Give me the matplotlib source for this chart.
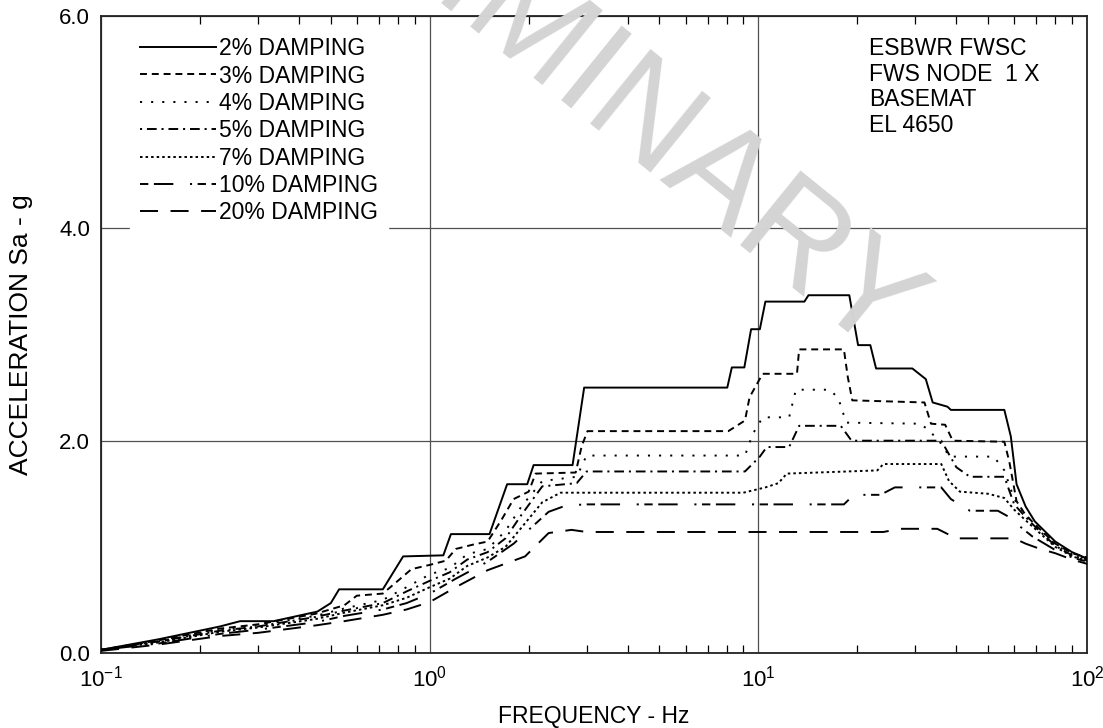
import matplotlib

matplotlib.use("Agg")

import matplotlib.pyplot as plt
from matplotlib.ticker import FixedLocator, FormatStrFormatter, LogLocator, NullFormatter

plt.rcParams["font.family"] = ["Liberation Sans", "DejaVu Sans"]
plt.rcParams["mathtext.fontset"] = "custom"
plt.rcParams["mathtext.rm"] = "Liberation Sans"
plt.rcParams["mathtext.it"] = "Liberation Sans:italic"
plt.rcParams["lines.scale_dashes"] = False

# spectra, (frequency Hz, Sa g) per damping ratio
f2 = [0.1, 0.15, 0.23, 0.265, 0.335, 0.455, 0.50, 0.53, 0.72, 0.83, 1.10, 1.16, 1.52, 1.72,
      1.98, 2.07, 2.72, 2.95, 8.04, 8.3, 9.06, 9.5, 10.1, 10.5, 13.8, 14.2, 18.9, 20.1, 21.9,
      22.8, 29.4, 32.3, 33.9, 37.6, 38.5, 56.0, 58.6, 61.0, 65, 69.3, 80, 90, 100]
a2 = [0.03, 0.13, 0.25, 0.30, 0.30, 0.39, 0.47, 0.60, 0.60, 0.91, 0.92, 1.12, 1.12, 1.59,
      1.59, 1.77, 1.77, 2.50, 2.50, 2.69, 2.69, 3.05, 3.05, 3.31, 3.31, 3.37, 3.37, 2.90, 2.90,
      2.68, 2.68, 2.58, 2.36, 2.32, 2.29, 2.29, 2.04, 1.59, 1.38, 1.24, 1.05, 0.95, 0.89]

f3 = [0.1, 0.15, 0.23, 0.3, 0.45, 0.55, 0.6, 0.72, 0.80, 0.88, 1.0, 1.12, 1.2, 1.35, 1.5,
      1.65, 1.8, 2.0, 2.1, 2.78, 2.9, 3.02, 8.1, 9.1, 9.4, 10.3, 13.1, 13.3, 18.2, 18.7, 19.3,
      32.0, 33.5, 37, 39, 56, 58, 61, 65, 70, 80, 90, 100]
a3 = [0.03, 0.12, 0.23, 0.27, 0.37, 0.45, 0.54, 0.56, 0.68, 0.79, 0.83, 0.87, 0.98, 1.02, 1.05,
      1.25, 1.45, 1.52, 1.69, 1.70, 1.95, 2.09, 2.09, 2.19, 2.41, 2.63, 2.63, 2.86, 2.86, 2.60,
      2.38, 2.36, 2.16, 2.15, 2.00, 1.99, 1.80, 1.43, 1.30, 1.20, 1.03, 0.94, 0.90]

f4 = [0.1, 0.15, 0.23, 0.3, 0.45, 0.55, 0.72, 0.85, 1.0, 1.15, 1.3, 1.5, 1.7, 1.9, 2.2, 2.8,
      3.0, 9.1, 9.6, 10.3, 12.4, 13.0, 16.5, 17.5, 18.5, 31, 33, 36.5, 38, 52, 56, 60, 65, 70,
      80, 90, 100]
a4 = [0.03, 0.11, 0.22, 0.26, 0.35, 0.42, 0.50, 0.62, 0.74, 0.80, 0.93, 0.98, 1.15, 1.38, 1.62,
      1.66, 1.86, 1.86, 2.06, 2.22, 2.22, 2.48, 2.48, 2.40, 2.17, 2.16, 2.10, 1.95, 1.85, 1.85,
      1.72, 1.45, 1.30, 1.20, 1.02, 0.93, 0.89]

f5 = [0.1, 0.15, 0.23, 0.3, 0.45, 0.55, 0.72, 0.85, 1.0, 1.15, 1.3, 1.5, 1.7, 1.9, 2.2, 2.8,
      3.0, 9.1, 10.1, 10.6, 12.4, 13.3, 17.8, 19.2, 36, 40, 44, 56, 60, 65, 70, 80, 90, 100]
a5 = [0.03, 0.11, 0.21, 0.25, 0.34, 0.40, 0.47, 0.58, 0.68, 0.76, 0.88, 0.95, 1.08, 1.30, 1.57,
      1.60, 1.71, 1.71, 1.85, 1.94, 1.94, 2.14, 2.14, 2.00, 2.00, 1.75, 1.66, 1.66, 1.40, 1.28,
      1.18, 1.01, 0.92, 0.88]

f7 = [0.1, 0.15, 0.23, 0.3, 0.45, 0.55, 0.72, 0.85, 1.0, 1.15, 1.3, 1.5, 1.7, 1.9, 2.2, 2.5,
      9.0, 10.5, 11.5, 12.2, 23, 24, 36, 38, 41, 50, 56, 60, 65, 70, 80, 90, 100]
a7 = [0.03, 0.10, 0.20, 0.24, 0.32, 0.38, 0.45, 0.52, 0.62, 0.70, 0.82, 0.90, 1.00, 1.18, 1.42,
      1.51, 1.51, 1.56, 1.60, 1.69, 1.72, 1.78, 1.78, 1.62, 1.52, 1.50, 1.46, 1.35, 1.25, 1.16,
      1.00, 0.91, 0.87]

f10 = [0.1, 0.15, 0.23, 0.3, 0.45, 0.55, 0.72, 0.85, 1.0, 1.2, 1.5, 1.8, 2.0, 2.3, 2.6, 3.0,
       18.2, 19.5, 23.5, 26, 36, 38.5, 44, 53.5, 58, 62, 68, 80, 90, 100]
a10 = [0.03, 0.09, 0.18, 0.22, 0.29, 0.35, 0.41, 0.47, 0.56, 0.70, 0.86, 1.03, 1.16, 1.33, 1.39,
       1.40, 1.40, 1.49, 1.49, 1.56, 1.56, 1.45, 1.34, 1.34, 1.28, 1.20, 1.10, 0.97, 0.90, 0.86]

f20 = [0.1, 0.15, 0.23, 0.3, 0.45, 0.55, 0.72, 0.85, 1.0, 1.2, 1.5, 1.95, 2.3, 2.7, 3.0, 24,
       27, 35, 40, 60, 65, 72, 80, 90, 100]
a20 = [0.02, 0.08, 0.16, 0.19, 0.26, 0.30, 0.36, 0.41, 0.48, 0.62, 0.78, 0.91, 1.13, 1.16, 1.14,
       1.14, 1.17, 1.17, 1.08, 1.08, 1.03, 0.98, 0.94, 0.88, 0.84]

labels = ["2% DAMPING", "3% DAMPING", "4% DAMPING", "5% DAMPING",
          "7% DAMPING", "10% DAMPING", "20% DAMPING"]
info_lines = ["ESBWR FWSC", "FWS NODE  1 X", "BASEMAT", "EL 4650"]

series = [(f2, a2), (f3, a3), (f4, a4), (f5, a5), (f7, a7), (f10, a10), (f20, a20)]
styles = ["-", (0, (5, 3.5)), (0, (1.5, 6.5)), (0, (1.5, 3.5, 7, 3.5)),
          (0, (1.8, 2.2)), (0, (6, 4, 14, 12, 1.5, 4)), (0, (13, 9))]

fig = plt.figure(figsize=(11.03, 7.28), dpi=100)
ax = fig.add_axes([0.0916, 0.103, 0.894, 0.875])

for (f, a), ls, lab in zip(series, styles, labels):
    ax.plot(f, a, color="black", linestyle=ls, linewidth=1.4, label=lab, zorder=3)

ax.set_xscale("log")
ax.set_xlim(0.1, 100)
ax.set_ylim(0, 6)
ax.yaxis.set_major_locator(FixedLocator([0, 2, 4, 6]))
ax.yaxis.set_major_formatter(FormatStrFormatter("%.1f"))
ax.xaxis.set_minor_locator(LogLocator(base=10, subs=range(2, 10)))
ax.xaxis.set_minor_formatter(NullFormatter())
ax.grid(True, which="major", color="#505050", linewidth=0.9, zorder=1)
ax.tick_params(axis="both", which="both", direction="in", top=True, right=False,
               labelsize=16, colors="black")
ax.tick_params(axis="x", which="minor", length=6, width=0.9)
ax.tick_params(axis="x", which="major", length=0, pad=9)
ax.tick_params(axis="y", which="major", length=0, pad=8)
for sp in ax.spines.values():
    sp.set_linewidth(1.3)
    sp.set_color("#222222")

ax.set_xlabel("FREQUENCY - Hz", fontsize=16.5, labelpad=10)
ax.set_ylabel("ACCELERATION Sa - g", fontsize=19, labelpad=19)

leg = ax.legend(loc="upper left", bbox_to_anchor=(0.029, 0.983), borderaxespad=0,
                fontsize=16.5, handlelength=3.3, handletextpad=0.13, labelspacing=0.19,
                borderpad=0.45, frameon=True, fancybox=False)
leg.get_frame().set_facecolor("white")
leg.get_frame().set_edgecolor("white")
leg.get_frame().set_alpha(1)
leg.set_zorder(5)

ax.text(0.779, 0.967, "\n".join(info_lines), transform=ax.transAxes, ha="left", va="top",
        fontsize=16.5, linespacing=1.15, zorder=5)

fig.text(0.795, 0.4986, "PRELIMINARY", fontsize=100, color="#d4d4d4", rotation=-39,
         rotation_mode="anchor", ha="right", va="baseline", zorder=2)

fig.savefig("out.png", dpi=100)
plt.close(fig)
